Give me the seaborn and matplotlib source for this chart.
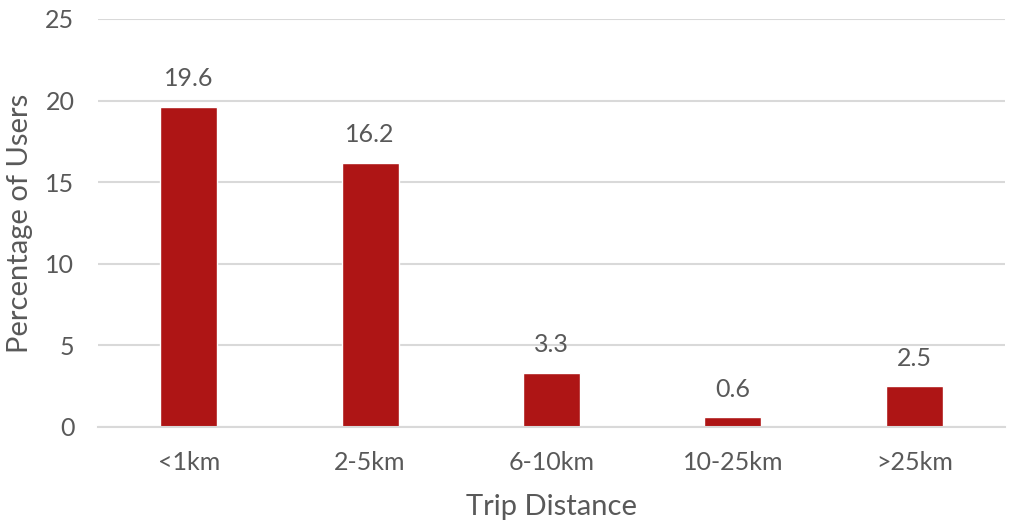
import matplotlib
matplotlib.use("Agg")
import matplotlib.pyplot as plt
import seaborn as sns
import pandas as pd

categories = ["<1km", "2-5km", "6-10km", "10-25km", ">25km"]
percentages = [19.6, 16.2, 3.3, 0.6, 2.5]
y_ticks = [0, 5, 10, 15, 20, 25]

sns.set_theme(style="white")
plt.rcParams["font.family"] = ["Lato", "DejaVu Sans"]

text_color = "#595959"
grid_color = "#d9d9d9"
bar_color = "#AE1515"

df = pd.DataFrame({"Trip Distance": categories, "Percentage of Users": percentages})

fig = plt.figure(figsize=(10.13, 5.21), dpi=100)
ax = fig.add_axes([98 / 1013, 94 / 521, (1005 - 98) / 1013, (427 - 19) / 521])

sns.barplot(data=df, x="Trip Distance", y="Percentage of Users", color=bar_color,
            saturation=1, width=0.314, ax=ax, zorder=3)

ax.set_ylim(0, 25)
ax.set_xlim(-0.5, 4.5)
ax.set_yticks(y_ticks)
ax.yaxis.grid(True, color=grid_color, linewidth=1.5, zorder=0)
ax.set_axisbelow(True)
for side in ["top", "right", "left"]:
    ax.spines[side].set_visible(False)
ax.spines["bottom"].set_color(grid_color)
ax.spines["bottom"].set_linewidth(1.5)
ax.spines["bottom"].set_zorder(4)

ax.tick_params(axis="both", length=0, labelsize=18, labelcolor=text_color)
ax.tick_params(axis="y", pad=17)
ax.tick_params(axis="x", pad=17)

ax.set_xlabel("Trip Distance", fontsize=21, color=text_color, labelpad=15)
ax.set_ylabel("Percentage of Users", fontsize=21, color=text_color, labelpad=9)

for cont in ax.containers:
    ax.bar_label(cont, labels=[f"{v:.1f}" for v in percentages], padding=12,
                 fontsize=18, color=text_color)

fig.savefig("out.png", dpi=100)
